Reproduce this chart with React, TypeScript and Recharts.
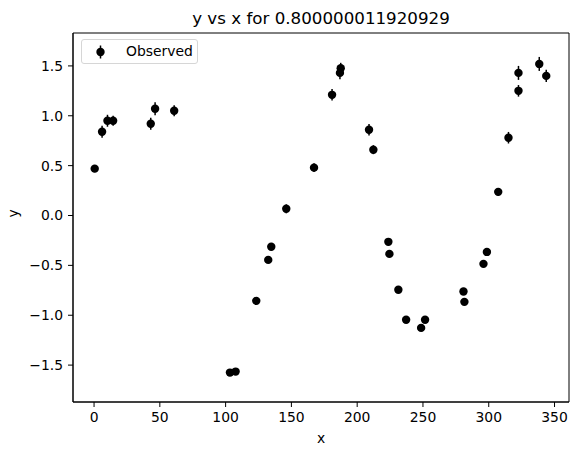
import React from 'react';
import { ScatterChart, Scatter, XAxis, YAxis, ErrorBar, ReferenceArea, Legend, Label } from 'recharts';

// observed points
const xValues = [
  0.5, 6.1, 10.2, 14.5, 43.1, 46.4, 60.9, 103.3, 107.6, 123.3, 132.4, 134.7,
  146.1, 167.2, 180.9, 186.9, 187.5, 209.0, 212.3, 223.7, 224.5, 231.3, 237.2,
  248.6, 251.6, 280.8, 281.5, 296.0, 298.6, 307.2, 315.0, 322.6, 322.6, 338.4, 343.7,
];
const yValues = [
  0.47, 0.84, 0.95, 0.95, 0.92, 1.07, 1.05, -1.575, -1.565, -0.856, -0.445, -0.314,
  0.067, 0.48, 1.21, 1.43, 1.477, 0.86, 0.66, -0.264, -0.385, -0.745, -1.045,
  -1.127, -1.045, -0.762, -0.866, -0.485, -0.365, 0.237, 0.78, 1.25, 1.43, 1.52, 1.40,
];
const yErrors = [
  0.035, 0.06, 0.06, 0.05, 0.06, 0.065, 0.055, 0.03, 0.03, 0.03, 0.03, 0.035,
  0.045, 0.045, 0.058, 0.063, 0.054, 0.058, 0.045, 0.035, 0.03, 0.03, 0.03,
  0.03, 0.03, 0.03, 0.03, 0.03, 0.03, 0.04, 0.058, 0.058, 0.07, 0.07, 0.062,
];

const xTicks = [0, 50, 100, 150, 200, 250, 300, 350];
const yTicks = [-1.5, -1.0, -0.5, 0.0, 0.5, 1.0, 1.5];
const xDomain = [-16, 361];
const yDomain = [-1.87, 1.83];

const titleText = 'y vs x for 0.800000011920929';
const seriesName = 'Observed';

const data = xValues.map((x, i) => ({ x, y: yValues[i], err: yErrors[i] }));

const FONT = '"DejaVu Sans", sans-serif';
const fmtY = (v: number) => v.toFixed(1).replace('-', '\u2212');

const Dot = (props: any) => <circle cx={props.cx} cy={props.cy} r={4.2} fill="#000" />;

const LegendBox = () => (
  <div style={{
    width: 115, height: 23, border: '1px solid #d6d6d6', borderRadius: 3,
    background: 'rgba(255,255,255,0.8)', position: 'relative', fontFamily: FONT, fontSize: 13.9,
  }}>
    <svg width={30} height={23} style={{ position: 'absolute', left: 4, top: 0 }}>
      <line x1={14.5} x2={14.5} y1={5.5} y2={18.5} stroke="#000" strokeWidth={1.5} />
      <circle cx={14.5} cy={12} r={4.2} fill="#000" />
    </svg>
    <span style={{ position: 'absolute', left: 44, top: 3, lineHeight: '16px', color: '#000' }}>{seriesName}</span>
  </div>
);

export default function App() {
  return (
    <div style={{ position: 'absolute', left: 0, top: 0, width: 578, height: 455, background: '#fff' }}>
      <div style={{
        position: 'absolute', left: 73, width: 496, top: 8, textAlign: 'center',
        fontFamily: FONT, fontSize: 16.7, lineHeight: '20px', color: '#000',
      }}>
        {titleText}
      </div>
      <ScatterChart width={578} height={455} margin={{ top: 33, right: 9, bottom: 0, left: 0 }}>
        <ReferenceArea
          x1={xDomain[0]} x2={xDomain[1]} y1={yDomain[0]} y2={yDomain[1]}
          fill="none" stroke="#000" strokeWidth={1} fillOpacity={0} ifOverflow="visible"
        />
        <XAxis
          dataKey="x" type="number" domain={xDomain} ticks={xTicks} allowDataOverflow
          height={53} tickSize={5} tickMargin={5}
          stroke="#000" tick={{ fill: '#000', fontSize: 13.9, fontFamily: FONT }}
        >
          <Label value="x" position="insideBottom" offset={12} fill="#000" fontSize={13.9} fontFamily={FONT} />
        </XAxis>
        <YAxis
          dataKey="y" type="number" domain={yDomain} ticks={yTicks} allowDataOverflow
          width={73} tickSize={5} tickMargin={5} tickFormatter={fmtY}
          stroke="#000" tick={{ fill: '#000', fontSize: 13.9, fontFamily: FONT }}
        >
          <Label value="y" angle={-90} position="insideLeft" offset={13} fill="#000" fontSize={13.9} fontFamily={FONT} />
        </YAxis>
        <Legend
          layout="horizontal" verticalAlign="middle" align="center"
          content={<LegendBox />}
          wrapperStyle={{ position: 'absolute', top: 39, left: 81, width: 'auto', height: 'auto' }}
        />
        <Scatter name={seriesName} data={data} fill="#000" shape={<Dot />} isAnimationActive={false}>
          <ErrorBar dataKey="err" direction="y" width={0} stroke="#000" strokeWidth={1.5} isAnimationActive={false} />
        </Scatter>
      </ScatterChart>
    </div>
  );
}
